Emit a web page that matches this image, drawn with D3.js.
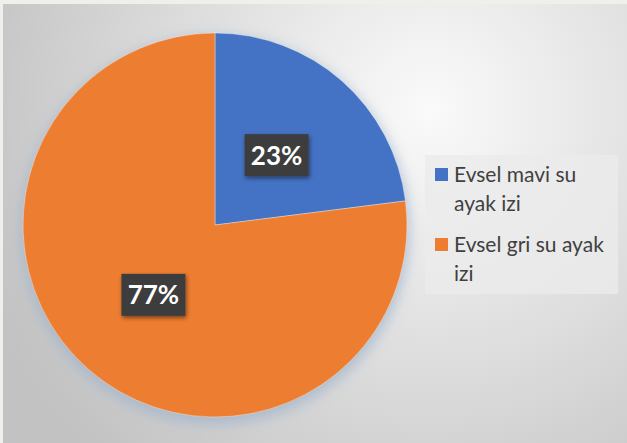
<!DOCTYPE html>
<html>
<head>
<meta charset="utf-8">
<script src="https://cdn.jsdelivr.net/npm/d3@7"></script>
<style>
  html, body { margin: 0; padding: 0; background: #efefeb; }
  svg { display: block; }
</style>
</head>
<body>
<svg id="chart" width="627" height="443"></svg>
<script>
// Household water footprint split
const categories = ["Evsel mavi su ayak izi", "Evsel gri su ayak izi"];
const legendLines = [["Evsel mavi su", "ayak izi"], ["Evsel gri su ayak", "izi"]];
const values = [23, 77];
const colors = ["#4472C4", "#ED7D31"];

const W = 627, H = 443;
const svg = d3.select("#chart");
const defs = svg.append("defs");

// Plot background: soft radial gradient
const bg = defs.append("radialGradient").attr("id", "bgGrad")
  .attr("gradientUnits", "userSpaceOnUse")
  .attr("cx", 430).attr("cy", 110).attr("r", 480);
bg.append("stop").attr("offset", "0%").attr("stop-color", "#fafafa");
bg.append("stop").attr("offset", "55%").attr("stop-color", "#dcdcdc");
bg.append("stop").attr("offset", "100%").attr("stop-color", "#c2c2c2");

// Soft glow behind the pie
const glow = defs.append("filter").attr("id", "glow")
  .attr("x", "-20%").attr("y", "-20%").attr("width", "140%").attr("height", "140%");
glow.append("feGaussianBlur").attr("stdDeviation", 7);

// Shadow for the value boxes
const boxShadow = defs.append("filter").attr("id", "boxShadow")
  .attr("x", "-30%").attr("y", "-30%").attr("width", "160%").attr("height", "160%");
boxShadow.append("feGaussianBlur").attr("in", "SourceAlpha").attr("stdDeviation", 2).attr("result", "b");
boxShadow.append("feOffset").attr("in", "b").attr("dx", 1).attr("dy", 2).attr("result", "o");
boxShadow.append("feComponentTransfer").attr("in", "o").attr("result", "s")
  .append("feFuncA").attr("type", "linear").attr("slope", 0.5);
const m = boxShadow.append("feMerge");
m.append("feMergeNode").attr("in", "s");
m.append("feMergeNode").attr("in", "SourceGraphic");

svg.append("rect").attr("x", 3).attr("y", 4).attr("width", W - 3).attr("height", H - 4)
  .attr("fill", "url(#bgGrad)");

const cx = 215, cy = 225, R = 192;
const g = svg.append("g").attr("transform", `translate(${cx},${cy})`);

g.append("circle").attr("cx", 0).attr("cy", 5).attr("r", R + 2)
  .attr("fill", "#9fb3cc").attr("opacity", 0.75).attr("filter", "url(#glow)");

const pie = d3.pie().sort(null).value(d => d)(values);
const arc = d3.arc().innerRadius(0).outerRadius(R);
const labelArc = d3.arc().innerRadius(R * 0.485).outerRadius(R * 0.485);

g.selectAll("path.slice").data(pie).join("path")
  .attr("class", "slice")
  .attr("d", arc)
  .attr("fill", (d, i) => colors[i])
  .attr("stroke", "#ffffff").attr("stroke-opacity", 0.35).attr("stroke-width", 1);

const lbl = g.selectAll("g.lbl").data(pie).join("g")
  .attr("class", "lbl")
  .attr("transform", d => `translate(${labelArc.centroid(d)})`);
lbl.append("rect")
  .attr("x", -32).attr("y", -21).attr("width", 64).attr("height", 42)
  .attr("fill", "#3c3c3c").attr("filter", "url(#boxShadow)");
lbl.append("text")
  .attr("text-anchor", "middle").attr("dy", "0.36em")
  .attr("font-family", "Lato, 'Open Sans', sans-serif")
  .attr("font-weight", "bold").attr("font-size", 26)
  .attr("fill", "#ffffff")
  .text(d => d.data + "%");

// Legend
const lg = svg.append("g");
lg.append("rect").attr("x", 425).attr("y", 155).attr("width", 193).attr("height", 139)
  .attr("fill", "#ebebeb").attr("opacity", 0.8);
const item = lg.selectAll("g.item").data(categories).join("g")
  .attr("class", "item")
  .attr("transform", (d, i) => `translate(435, ${168 + i * 70})`);
item.append("rect").attr("width", 13).attr("height", 13)
  .attr("fill", (d, i) => colors[i]);
item.each(function (d, i) {
  const t = d3.select(this).append("text")
    .attr("font-family", "Lato, 'Open Sans', sans-serif")
    .attr("font-size", 21).attr("fill", "#404040");
  legendLines[i].forEach((line, j) => {
    t.append("tspan").attr("x", 19).attr("y", 14 + j * 29).text(line);
  });
});
</script>
</body>
</html>
